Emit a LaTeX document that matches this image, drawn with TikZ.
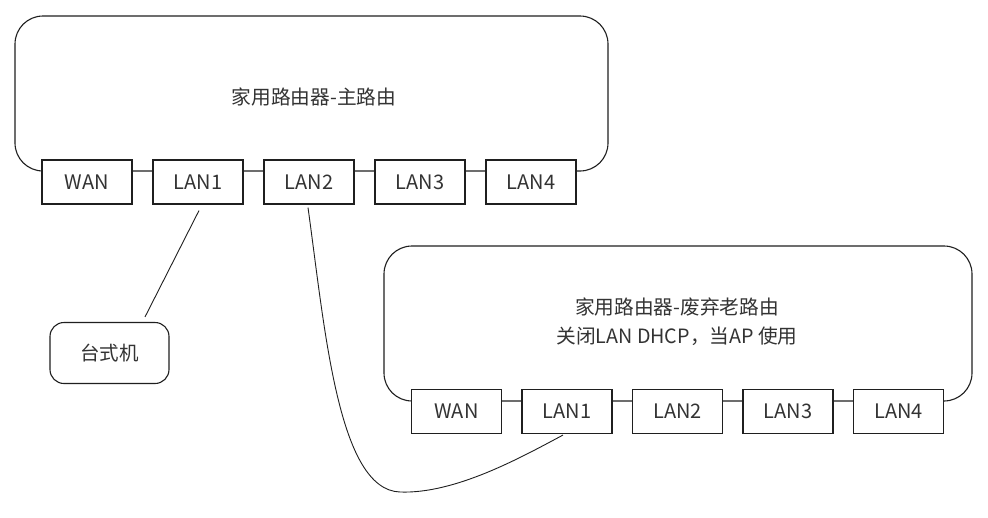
\documentclass[tikz,border=0pt]{standalone}
\usepackage{fontspec}
\setmainfont{Noto Sans CJK SC}
\begin{document}
\begin{tikzpicture}[x=1pt,y=-1pt,
  ink/.style={draw=black!88, line width=1.1pt},
  router/.style={ink, rounded corners=28pt},
  port/.style={ink, fill=white, minimum width=90pt, minimum height=44pt, inner sep=0pt,
    font=\fontsize{20}{22}\selectfont, text=black!80},
  pcbox/.style={ink, fill=white, rounded corners=14pt, minimum width=119pt, minimum height=61pt,
    inner sep=0pt, font=\fontsize{19.5}{22}\selectfont, text=black!80},
  label/.style={font=\fontsize{19.7}{29}\selectfont, text=black!80, align=center},
  wire/.style={draw=black!88, line width=0.9pt}
]
\useasboundingbox (0,0) rectangle (988,517);
\fill[white] (0,0) rectangle (988,517);

% main router
\draw[router] (15,16) rectangle (608,171);
\node[label] (mainlabel) at (314,97) {家用路由器-主路由};
\node[port] (mwan) at (87,182) {WAN};
\node[port] (ml1) at (198,182) {LAN1};
\node[port] (ml2) at (309,182) {LAN2};
\node[port] (ml3) at (420,182) {LAN3};
\node[port] (ml4) at (531,182) {LAN4};

% old router
\draw[router] (384,246) rectangle (972,401);
\node[label] (oldlabel) at (677,322) {家用路由器-废弃老路由\\关闭LAN DHCP，当AP 使用};
\node[port] (owan) at (456.5,411.5) {WAN};
\node[port] (ol1) at (567,411.5) {LAN1};
\node[port] (ol2) at (677.5,411.5) {LAN2};
\node[port] (ol3) at (788,411.5) {LAN3};
\node[port] (ol4) at (898.5,411.5) {LAN4};

% desktop
\node[pcbox] (pc) at (109.5,353) {台式机};

% connectors
\draw[wire] ([shift={(1,6)}]ml1.south) -- ([shift={(35.5,-5)}]pc.north);
\draw[wire] ([shift={(-1,3)}]ml2.south) .. controls (325,330) and (338,490) .. (400,492)
  .. controls (455,494) and (520,458) .. ([shift={(-4,1)}]ol1.south);
\end{tikzpicture}
\end{document}
